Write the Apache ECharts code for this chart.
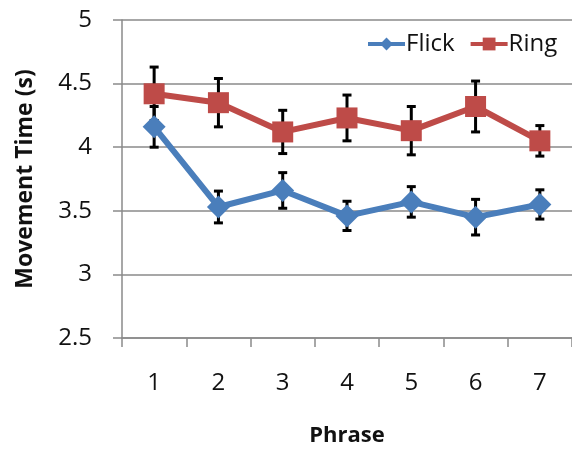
<!DOCTYPE html>
<html>
<head>
<meta charset="utf-8">
<script src="https://cdn.jsdelivr.net/npm/echarts@6/dist/echarts.min.js"></script>
<style>
  html, body { margin: 0; padding: 0; background: #fff; }
  #chart { width: 572px; height: 452px; }
</style>
</head>
<body>
<div id="chart"></div>
<script>
// Movement time per phrase, mean with error (s)
const phrases = ['1', '2', '3', '4', '5', '6', '7'];
const flickMean = [4.16, 3.53, 3.66, 3.46, 3.57, 3.45, 3.55];
const flickErr  = [0.16, 0.125, 0.14, 0.115, 0.12, 0.14, 0.115];
const ringMean  = [4.42, 4.35, 4.12, 4.23, 4.13, 4.32, 4.05];
const ringErr   = [0.21, 0.19, 0.17, 0.18, 0.19, 0.20, 0.12];

const FONT = '"Open Sans", "DejaVu Sans", sans-serif';
const BLUE = '#4A7EBB';
const RED = '#BE4B48';

// [categoryIndex, low, high] triples for the error-bar series
function errData(mean, err) {
  return mean.map((m, i) => [i, m - err[i], m + err[i]]);
}

function renderErrorBar(params, api) {
  const lo = api.coord([api.value(0), api.value(1)]);
  const hi = api.coord([api.value(0), api.value(2)]);
  const cap = 4.5;
  const style = { stroke: '#000', lineWidth: 3 };
  return {
    type: 'group',
    children: [
      { type: 'line', shape: { x1: hi[0], y1: hi[1], x2: lo[0], y2: lo[1] }, style },
      { type: 'line', shape: { x1: hi[0] - cap, y1: hi[1], x2: hi[0] + cap, y2: hi[1] }, style },
      { type: 'line', shape: { x1: lo[0] - cap, y1: lo[1], x2: lo[0] + cap, y2: lo[1] }, style }
    ]
  };
}

const chart = echarts.init(document.getElementById('chart'), null, { renderer: 'canvas' });

chart.setOption({
  animation: false,
  backgroundColor: '#fff',
  textStyle: { fontFamily: FONT },
  grid: { left: 122, top: 20, width: 455, height: 320 },
  legend: {
    left: 361,
    top: 27,
    itemWidth: 37,
    itemHeight: 16,
    itemGap: 14,
    lineStyle: { width: 4 },
    textStyle: { fontFamily: FONT, fontSize: 24, color: '#111', padding: [0, 0, 0, -4] },
    data: ['Flick', 'Ring']
  },
  xAxis: {
    type: 'category',
    data: phrases,
    boundaryGap: true,
    name: 'Phrase',
    nameLocation: 'middle',
    nameGap: 87,
    nameTextStyle: { fontFamily: FONT, fontSize: 22, fontWeight: 'bold', color: '#111' },
    axisLine: { lineStyle: { color: '#8a8a8a', width: 1.5 } },
    axisTick: { show: true, length: 9, alignWithLabel: false, lineStyle: { color: '#8a8a8a', width: 1.5 } },
    axisLabel: { fontFamily: FONT, fontSize: 24, color: '#111', margin: 33 },
    splitLine: { show: false }
  },
  yAxis: {
    type: 'value',
    min: 2.5,
    max: 5,
    interval: 0.5,
    name: 'Movement Time (s)',
    nameLocation: 'middle',
    nameGap: 85,
    nameTextStyle: { fontFamily: FONT, fontSize: 23, fontWeight: 'bold', color: '#111' },
    axisLine: { show: true, lineStyle: { color: '#8a8a8a', width: 1.5 } },
    axisTick: { show: true, inside: false, length: 9, lineStyle: { color: '#8a8a8a', width: 1.5 } },
    axisLabel: { fontFamily: FONT, fontSize: 24, color: '#111', margin: 30 },
    splitLine: { show: true, lineStyle: { color: '#8a8a8a', width: 1.5 } }
  },
  series: [
    {
      name: 'FlickErr',
      type: 'custom',
      renderItem: renderErrorBar,
      data: errData(flickMean, flickErr),
      z: 1,
      silent: true
    },
    {
      name: 'RingErr',
      type: 'custom',
      renderItem: renderErrorBar,
      data: errData(ringMean, ringErr),
      z: 1,
      silent: true
    },
    {
      name: 'Flick',
      type: 'line',
      data: flickMean,
      z: 3,
      symbol: 'diamond',
      symbolSize: [23, 23],
      lineStyle: { color: BLUE, width: 6 },
      itemStyle: { color: BLUE },
      emphasis: { disabled: true }
    },
    {
      name: 'Ring',
      type: 'line',
      data: ringMean,
      z: 3,
      symbol: 'rect',
      symbolSize: [21, 21],
      lineStyle: { color: RED, width: 6 },
      itemStyle: { color: RED },
      emphasis: { disabled: true }
    }
  ]
});
</script>
</body>
</html>
